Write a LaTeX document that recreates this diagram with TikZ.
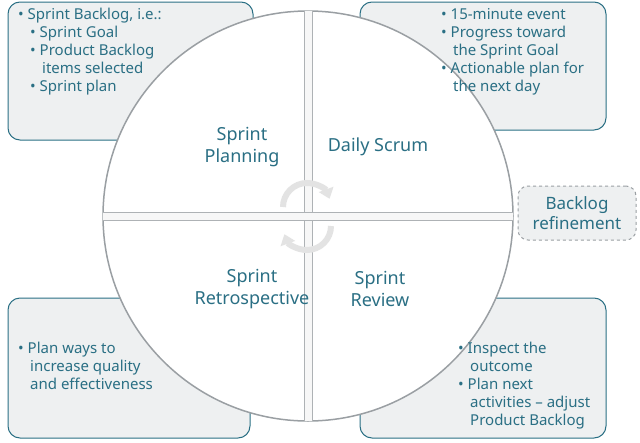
\documentclass[tikz,border=0pt]{standalone}
\usepackage{fontspec}
\setmainfont{Noto Sans}
\usetikzlibrary{arrows.meta}
\definecolor{teal}{HTML}{2A6F84}
\definecolor{boxfill}{HTML}{EEF0F1}
\definecolor{ringgray}{HTML}{9A9FA3}
\tikzset{
  infobox/.style={draw=teal, line width=1pt, fill=boxfill, rounded corners=12pt},
  refbox/.style={draw=ringgray, dashed, line width=1pt, fill=boxfill, rounded corners=10pt},
  bullets/.style={text=teal, font=\fontsize{15}{18}\selectfont, align=left, anchor=north west, inner sep=0pt},
  phase/.style={text=teal, font=\fontsize{18}{22}\selectfont, align=center},
  cycle/.style={line width=6pt, draw=gray!22, -{Triangle[length=10pt,width=15pt]}}
}
\begin{document}
\begin{tikzpicture}[x=1pt,y=-1pt]
  \useasboundingbox (0,0) rectangle (640,442);
  % boxes behind the circle
  \draw[infobox] (8,2) rectangle (253,140);
  \draw[infobox] (360,2) rectangle (606,130);
  \draw[infobox] (8,298) rectangle (250,438);
  \draw[infobox] (360,298) rectangle (606,438);
  \node[refbox, minimum width=118pt, minimum height=54pt, text=teal,
        font=\fontsize{17}{20}\selectfont, align=center] (refine) at (577,213) {Backlog\\refinement};
  % circle with its four quarters
  \coordinate (c) at (308,216);
  \draw[fill=white, draw=ringgray, line width=1.5pt] (c) circle[radius=205pt];
  \begin{scope}
    \clip (c) circle[radius=205pt];
    \draw[fill=gray!6, draw=ringgray!80, line width=1pt] (304,0) rectangle (312,442);
    \draw[fill=gray!6, draw=ringgray!80, line width=1pt] (90,212) rectangle (530,220);
    \fill[gray!6] (304.5,212.5) rectangle (311.5,219.5);
  \end{scope}
  % turning arrows
  \draw[cycle] (283,207) arc[start angle=180, end angle=20, radius=24pt];
  \draw[cycle] (331,226) arc[start angle=0, end angle=-160, radius=24pt];
  % phase names
  \node[phase] (plan) at (242,147) {Sprint\\Planning};
  \node[phase] (daily) at (378,147) {Daily Scrum};
  \node[phase] (retro) at (252,289) {Sprint\\Retrospective};
  \node[phase] (review) at (380,289) {Sprint\\Review};
  % texts
  \node[bullets] (tl) at (18,8) {\textbullet\ Sprint Backlog, i.e.:\\
    \hspace{12pt}\textbullet\ Sprint Goal\\
    \hspace{12pt}\textbullet\ Product Backlog\\
    \hspace{24pt}items selected\\
    \hspace{12pt}\textbullet\ Sprint plan};
  \node[bullets] (tr) at (441,8) {\textbullet\ 15-minute event\\
    \textbullet\ Progress toward\\
    \hspace{12pt}the Sprint Goal\\
    \textbullet\ Actionable plan for\\
    \hspace{12pt}the next day};
  \node[bullets] (bl) at (18,342) {\textbullet\ Plan ways to\\
    \hspace{12pt}increase quality\\
    \hspace{12pt}and effectiveness};
  \node[bullets] (br) at (458,342) {\textbullet\ Inspect the\\
    \hspace{12pt}outcome\\
    \textbullet\ Plan next\\
    \hspace{12pt}activities -- adjust\\
    \hspace{12pt}Product Backlog};
\end{tikzpicture}
\end{document}
